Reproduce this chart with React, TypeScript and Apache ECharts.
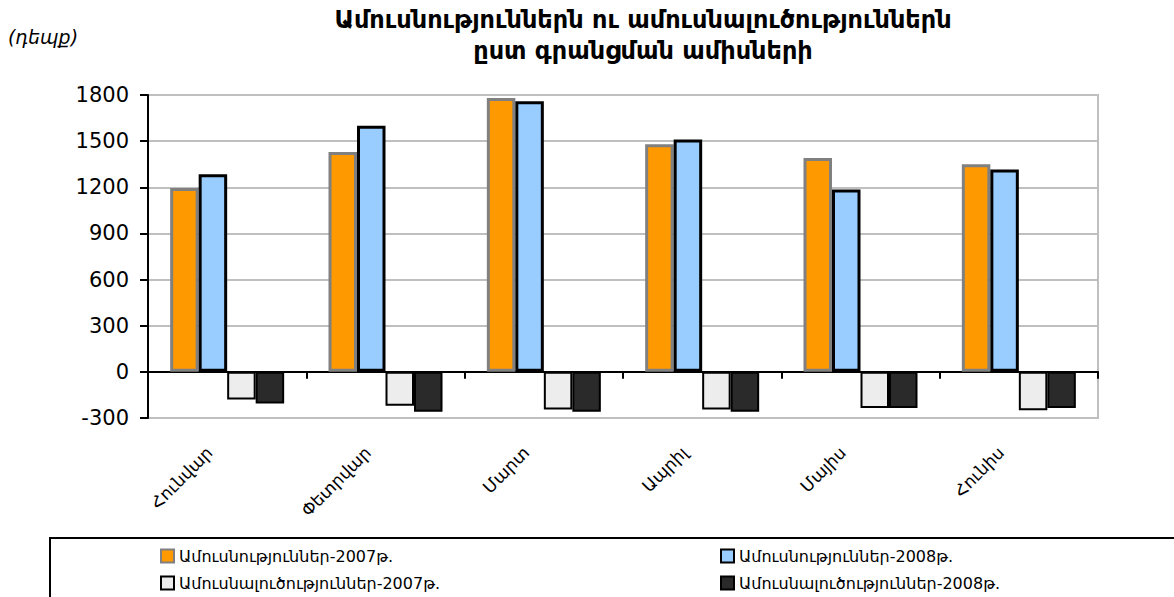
import React, { useEffect, useRef } from "react";
import * as echarts from "echarts";

const categories = ["Հունվար", "Փետրվար", "Մարտ", "Ապրիլ", "Մայիս", "Հունիս"];
const seriesNames = [
  "Ամուսնություններ-2007թ.",
  "Ամուսնություններ-2008թ.",
  "Ամուսնալուծություններ-2007թ.",
  "Ամուսնալուծություններ-2008թ.",
];
const marriages2007 = [1195, 1430, 1780, 1480, 1390, 1350];
const marriages2008 = [1285, 1600, 1760, 1510, 1185, 1315];
const divorces2007 = [-180, -220, -245, -245, -235, -250];
const divorces2008 = [-205, -260, -260, -260, -235, -235];
const yMin = -300;
const yMax = 1800;
const yStep = 300;

const titleLine1 = "Ամուսնություններն ու ամուսնալուծություններն";
const titleLine2 = "ըստ գրանցման ամիսների";
const unitLabel = "(դեպք)";

const FONT = "'DejaVu Sans', 'Liberation Sans', sans-serif";

export default function App() {
  const ref = useRef<HTMLDivElement>(null);
  useEffect(() => {
    if (!ref.current) return;
    const chart = echarts.init(ref.current, null, { renderer: "svg" });
    const legendCommon = {
      itemWidth: 13,
      itemHeight: 13,
      padding: 0,
      icon: "rect",
      textStyle: { fontSize: 16, fontFamily: FONT, color: "#000" },
    };
    chart.setOption({
      animation: false,
      backgroundColor: "#fff",
      grid: {
        left: 148,
        right: 76,
        top: 95,
        bottom: 179,
        show: true,
        borderColor: "#BFBFBF",
        borderWidth: 2,
        backgroundColor: "transparent",
      },
      graphic: [
        {
          type: "text",
          x: 643,
          y: 20,
          style: {
            text: titleLine1,
            textAlign: "center",
            textVerticalAlign: "middle",
            font: `bold 24px ${FONT}`,
            fill: "#000",
          },
        },
        {
          type: "text",
          x: 643,
          y: 51,
          style: {
            text: titleLine2,
            textAlign: "center",
            textVerticalAlign: "middle",
            font: `bold 24px ${FONT}`,
            fill: "#000",
          },
        },
        {
          type: "text",
          x: 8,
          y: 37,
          style: {
            text: unitLabel,
            textAlign: "left",
            textVerticalAlign: "middle",
            font: `italic 19px ${FONT}`,
            fill: "#000",
          },
        },
        {
          type: "rect",
          shape: { x: 50, y: 538, width: 1140, height: 80 },
          style: { fill: "none", stroke: "#000", lineWidth: 2 },
          z: 0,
        },
      ],
      legend: [
        { ...legendCommon, data: [seriesNames[0]], left: 160, top: 548 },
        { ...legendCommon, data: [seriesNames[1]], left: 720, top: 548 },
        { ...legendCommon, data: [seriesNames[2]], left: 160, top: 575 },
        { ...legendCommon, data: [seriesNames[3]], left: 720, top: 575 },
      ],
      xAxis: [
        {
          type: "category",
          data: categories,
          position: "bottom",
          axisLine: { show: false, onZero: false },
          axisTick: { show: false },
          axisLabel: {
            rotate: 45,
            margin: 14,
            padding: [0, 25, 0, 0],
            fontSize: 17,
            fontFamily: FONT,
            color: "#000",
            interval: 0,
          },
        },
        {
          type: "category",
          data: categories,
          position: "bottom",
          axisLine: { show: true, onZero: true, lineStyle: { color: "#000", width: 2 } },
          axisTick: { show: true, length: 7, lineStyle: { color: "#000", width: 2 } },
          axisLabel: { show: false },
        },
      ],
      yAxis: {
        type: "value",
        min: yMin,
        max: yMax,
        interval: yStep,
        axisLine: { show: true, lineStyle: { color: "#000", width: 2 } },
        axisTick: { show: true, length: 8, lineStyle: { color: "#000", width: 2 } },
        axisLabel: {
          fontSize: 21,
          fontFamily: FONT,
          color: "#000",
          margin: 19,
          formatter: (v: number) => String(v),
        },
        splitLine: { show: true, lineStyle: { color: "#BFBFBF", width: 2 } },
      },
      series: [
        {
          name: seriesNames[0],
          type: "bar",
          data: marriages2007,
          barGap: "0%",
          barCategoryGap: "28%",
          itemStyle: { color: "#FF9900", borderColor: "#808080", borderWidth: 3 },
        },
        {
          name: seriesNames[1],
          type: "bar",
          data: marriages2008,
          itemStyle: { color: "#99CCFF", borderColor: "#000", borderWidth: 3 },
        },
        {
          name: seriesNames[2],
          type: "bar",
          data: divorces2007,
          itemStyle: { color: "#EDEDED", borderColor: "#000", borderWidth: 2 },
        },
        {
          name: seriesNames[3],
          type: "bar",
          data: divorces2008,
          itemStyle: { color: "#2A2A2A", borderColor: "#000", borderWidth: 2 },
        },
      ],
    });
    return () => chart.dispose();
  }, []);
  return (
    <div
      ref={ref}
      style={{ position: "fixed", left: 0, top: 0, width: 1174, height: 597 }}
    />
  );
}
